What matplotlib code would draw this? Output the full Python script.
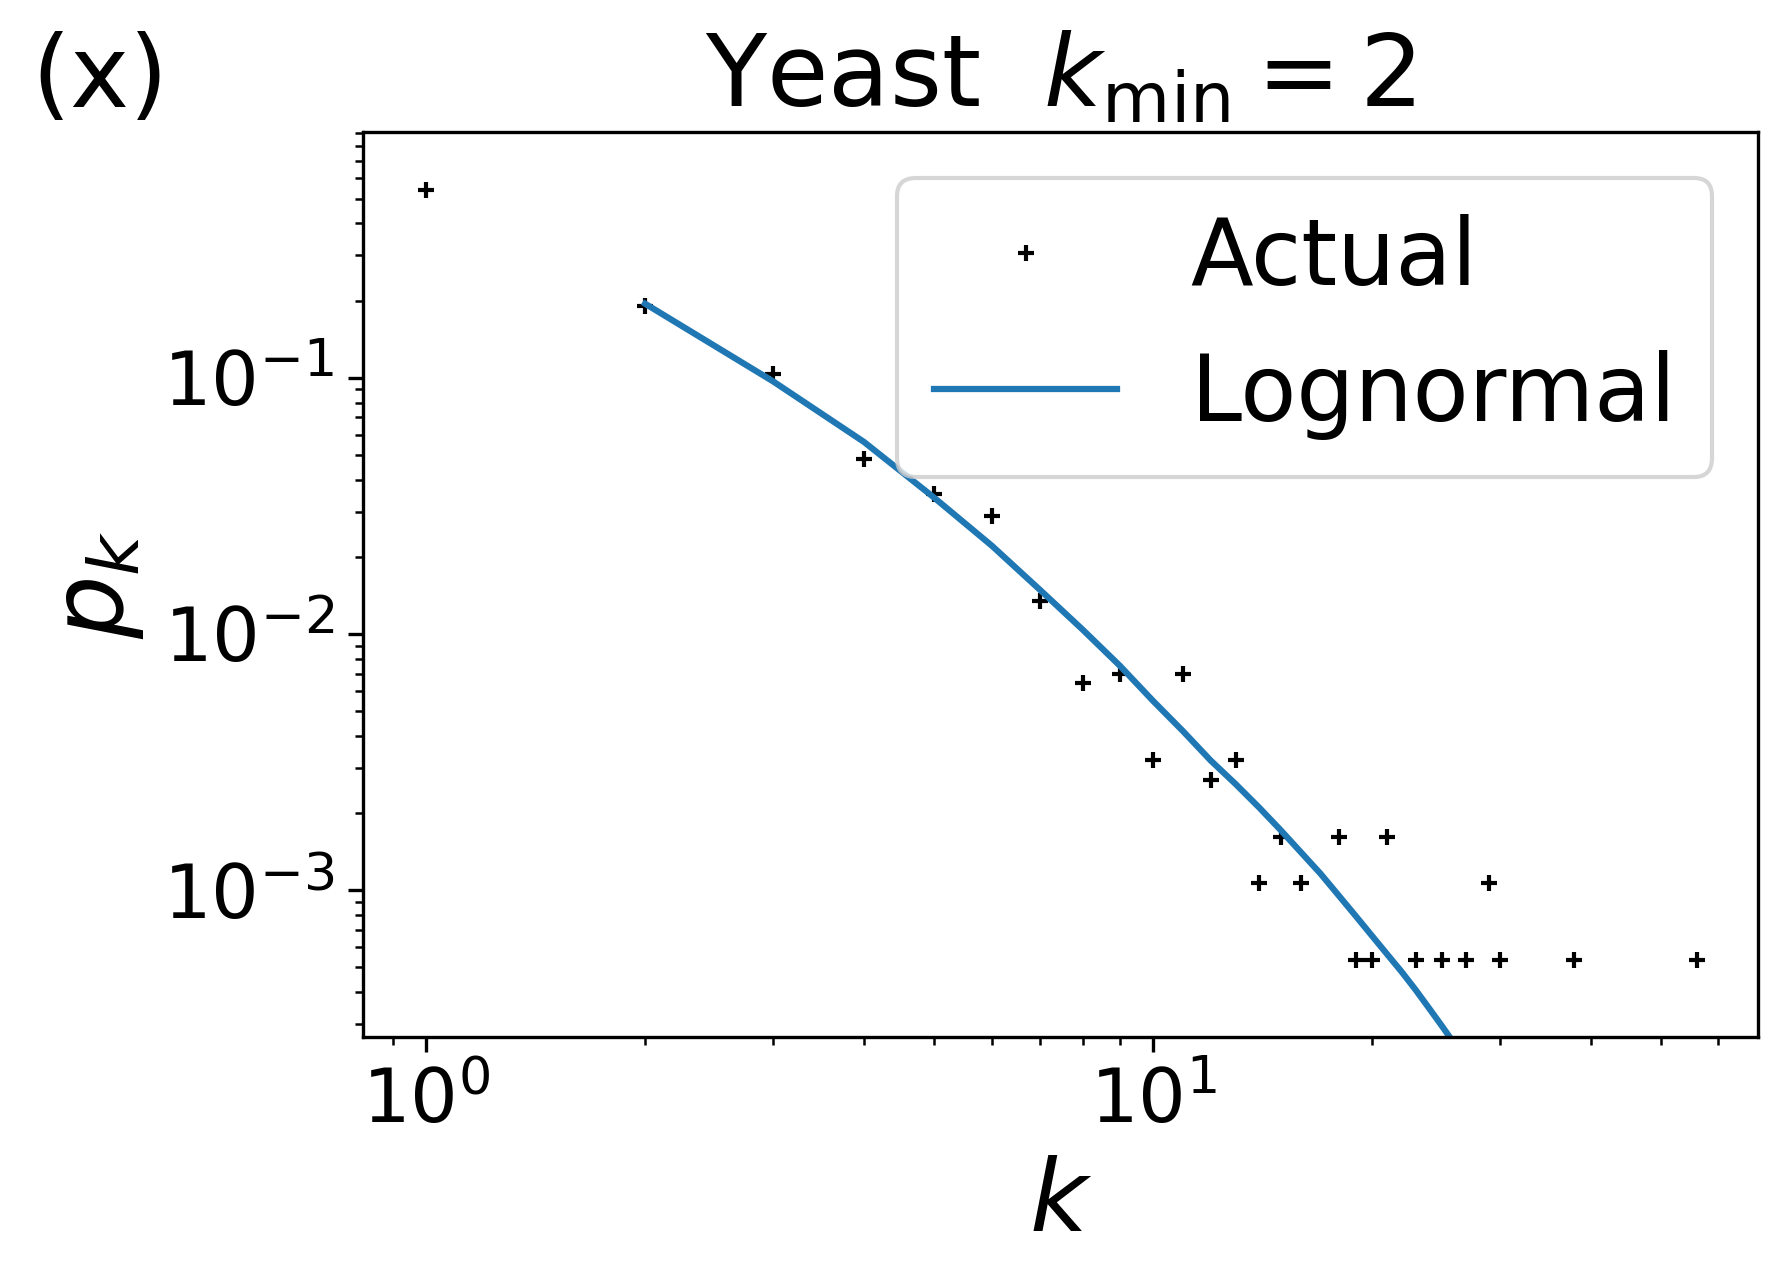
import matplotlib
matplotlib.use("Agg")
import matplotlib.pyplot as plt

# degree distribution
k_actual = [1, 2, 3, 4, 5, 6, 7, 8, 9, 10, 11, 12, 13, 14, 15, 16, 18, 19, 20,
            21, 23, 25, 27, 29, 30, 38, 56]
p_actual = [0.539, 0.191, 0.103, 0.0482, 0.0353, 0.0289, 0.0134, 0.00642,
            0.00696, 0.00321, 0.00696, 0.00268, 0.00321, 0.00107, 0.00161,
            0.00107, 0.00161, 0.000535, 0.000535, 0.00161, 0.000535, 0.000535,
            0.000535, 0.00107, 0.000535, 0.000535, 0.000535]

# fitted lognormal curve
k_fit = list(range(2, 28))
p_fit = [0.1945, 0.0968, 0.0562, 0.0340, 0.0221, 0.0148, 0.0104, 0.00752,
         0.00548, 0.00417, 0.00321, 0.00259, 0.0021, 0.00171, 0.0014, 0.00116,
         0.000955, 0.000794, 0.000665, 0.000562, 0.000479, 0.000407, 0.000345,
         0.000294, 0.000251, 0.000214]

fig = plt.figure(figsize=(1788 / 300, 1283 / 300), dpi=300)
ax = fig.add_axes([0.2030, 0.1920, 0.7802, 0.7053])

ax.plot(k_actual, p_actual, 'k+', markersize=4, label='Actual')
ax.plot(k_fit, p_fit, color='#1f77b4', linewidth=1.5, label='Lognormal')

ax.set_xscale('log')
ax.set_yscale('log')
ax.set_xlim(0.818, 68.0)
ax.set_ylim(2.68e-4, 0.912)

ax.tick_params(axis='both', which='major', labelsize=18)
ax.set_xlabel('$k$', fontsize=24)
ax.set_ylabel('$p_k$', fontsize=24)
ax.set_title('Yeast  $k_{\\min}=2$', fontsize=24)
ax.legend(loc='upper right', fontsize=22)

fig.text(0.0173, 0.9166, '(x)', fontsize=24, ha='left', va='baseline')

fig.savefig('out.png', dpi=300)
